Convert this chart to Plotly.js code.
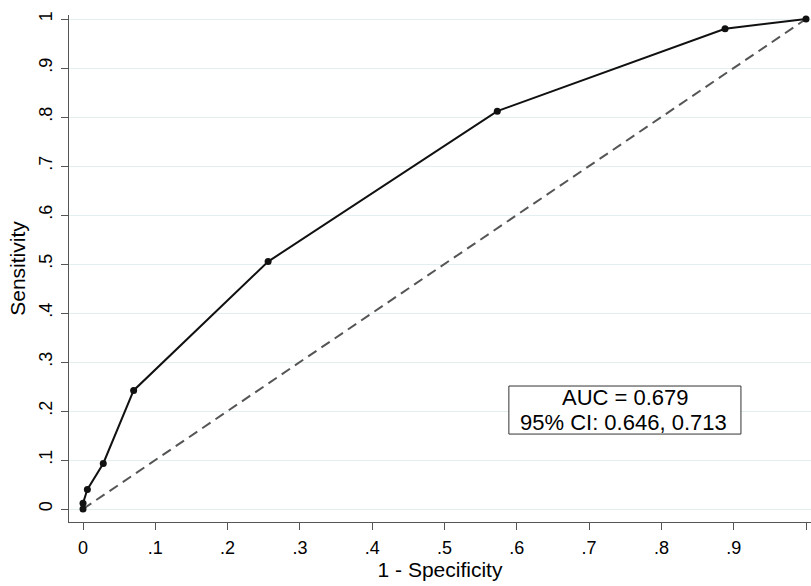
<!DOCTYPE html>
<html>
<head>
<meta charset="utf-8">
<script src="https://cdn.plot.ly/plotly-3.0.1.min.js"></script>
<style>html,body{margin:0;padding:0;background:#fff;}#chart{width:811px;height:586px;}</style>
</head>
<body>
<div id="chart"></div>
<script>
const fpr = [0, 0, 0.006, 0.028, 0.070, 0.256, 0.573, 0.888, 1];
const tpr = [0, 0.012, 0.040, 0.093, 0.242, 0.505, 0.812, 0.980, 1];
const refX = [0, 1];
const refY = [0, 1];
const tickVals = [0, 0.1, 0.2, 0.3, 0.4, 0.5, 0.6, 0.7, 0.8, 0.9, 1];
const tickText = ["0", ".1", ".2", ".3", ".4", ".5", ".6", ".7", ".8", ".9", "1"];
const aucLines = ["AUC = 0.679", "95% CI: 0.646, 0.713"];

const font = "Liberation Sans, Arial, sans-serif";
const traces = [
  {x: refX, y: refY, mode: "lines", line: {color: "#555", width: 2, dash: "10px,6px"}, hoverinfo: "skip", cliponaxis: false},
  {x: fpr, y: tpr, mode: "lines+markers", line: {color: "#111", width: 2},
   marker: {color: "#111", size: 7}, cliponaxis: false}
];
const layout = {
  width: 811, height: 586,
  margin: {l: 69, r: 0, t: 15, b: 64},
  paper_bgcolor: "#fff", plot_bgcolor: "#fff",
  showlegend: false,
  font: {family: font, size: 18, color: "#000"},
  xaxis: {
    range: [-0.0194, 1.0069], tickvals: tickVals, ticktext: tickText,
    showgrid: false, zeroline: false, showline: true, linecolor: "#555", linewidth: 1,
    ticks: "outside", ticklen: 7, tickcolor: "#555", tickfont: {size: 18}, ticklabelstandoff: 2,
    title: {text: "1 - Specificity", font: {size: 21}, standoff: 1}
  },
  yaxis: {
    range: [-0.0265, 1.0082], tickvals: tickVals, ticktext: tickText, tickangle: -90,
    showgrid: true, gridcolor: "#e3eeee", gridwidth: 1, zeroline: false,
    showline: true, linecolor: "#555", linewidth: 1,
    ticks: "outside", ticklen: 7, tickcolor: "#555", tickfont: {size: 18}, ticklabelstandoff: 2,
    title: {text: "Sensitivity", font: {size: 21}, standoff: 4}
  },
  shapes: [{
    type: "rect", xref: "x", yref: "y", x0: 0.589, x1: 0.910, y0: 0.153, y1: 0.251,
    line: {color: "#333", width: 1}, fillcolor: "#fff", layer: "above"
  }],
  annotations: [
    {x: 0.751, y: 0.2276, xref: "x", yref: "y", text: aucLines[0], showarrow: false,
     font: {size: 22, family: font, color: "#000"}, xanchor: "center", yanchor: "middle", borderpad: 0},
    {x: 0.747, y: 0.1765, xref: "x", yref: "y", text: aucLines[1], showarrow: false,
     font: {size: 22, family: font, color: "#000"}, xanchor: "center", yanchor: "middle", borderpad: 0}
  ]
};
Plotly.newPlot("chart", traces, layout, {displayModeBar: false, staticPlot: true});
</script>
</body>
</html>
